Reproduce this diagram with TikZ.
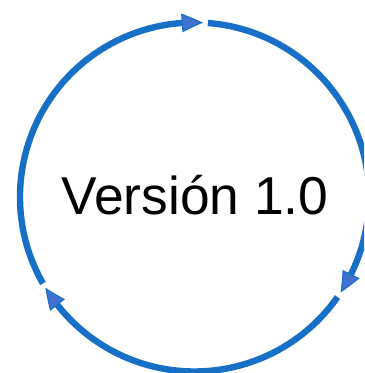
\documentclass[tikz,border=0pt]{standalone}
\usepackage{fontspec}
\setmainfont{Liberation Sans}
\usetikzlibrary{arrows.meta,bending}
\definecolor{ringblue}{RGB}{24,112,198}
\definecolor{tipblue}{RGB}{66,112,206}
\tikzset{
  ring/.style={draw=ringblue, line width=4.8pt,
    -{Triangle[length=16pt,width=14pt,line width=0.8pt,color=ringblue,fill=tipblue,bend]}},
  label/.style={font=\fontsize{40}{48}\selectfont, text=black, inner sep=0pt}
}
\begin{document}
\begin{tikzpicture}[x=0.75pt,y=0.75pt]
\useasboundingbox (0,0) rectangle (364,373);
\clip (0,0) rectangle (364,373);
\coordinate (c) at (194.5,176);
\draw[ring] (c) ++(209.7:174.5) arc[start angle=209.7, end angle=87.2, radius=174.5];
\draw[ring] (c) ++(85.6:174.5) arc[start angle=85.6, end angle=-33.2, radius=174.5];
\draw[ring] (c) ++(-35:174.5) arc[start angle=-35, end angle=-148.7, radius=174.5];
\node[label, anchor=base] (txt) at (195,158) {Versión 1.0};
\end{tikzpicture}
\end{document}
